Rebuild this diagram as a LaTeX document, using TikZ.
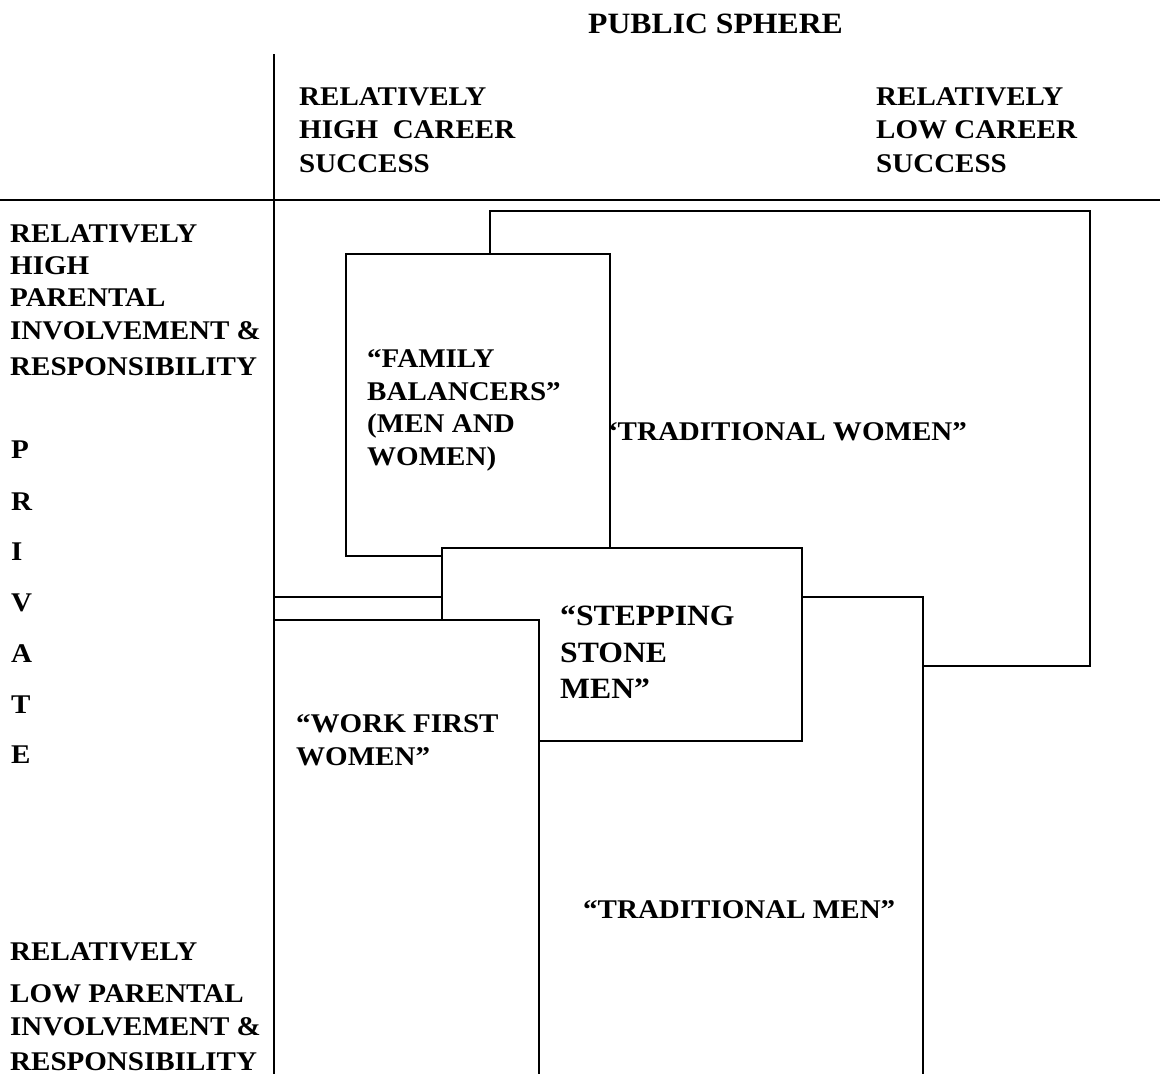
\documentclass[tikz,border=0pt]{standalone}
\usepackage{fontspec}
\setmainfont{Liberation Serif}[FakeStretch=1.075]
\begin{document}
\begin{tikzpicture}[x=1pt,y=-1pt,
  lbl/.style={anchor=base west, inner sep=0pt, font=\fontsize{27}{31}\bfseries\selectfont},
  big/.style={lbl, font=\fontsize{29.5}{34}\bfseries\selectfont},
  ln/.style={line width=1.8pt, line cap=rect},
  bx/.style={line width=1.8pt, fill=white}]
\useasboundingbox (0,0) rectangle (1160,1074);
\fill[white] (0,0) rectangle (1160,1074);
\clip (0,0) rectangle (1160,1074);

% axes
\coordinate (axtop) at (274,55);
\coordinate (axbot) at (274,1080);
\coordinate (hl) at (0,200);
\coordinate (hr) at (1160,200);
\draw[ln] (axtop) -- (axbot);
\draw[ln] (hl) -- (hr);

% headings
\node[big] (public) at (588,33) {PUBLIC SPHERE};
\node[lbl] (hc1) at (299,105) {RELATIVELY};
\node[lbl] (hc2) at (299,138) {HIGH\ \ CAREER};
\node[lbl] (hc3) at (299,172) {SUCCESS};
\node[lbl] (hr1) at (876,105) {RELATIVELY};
\node[lbl] (hr2) at (876,138) {LOW CAREER};
\node[lbl] (hr3) at (876,172) {SUCCESS};

% left column
\node[lbl] (lt1) at (10,242) {RELATIVELY};
\node[lbl] (lt2) at (10,274) {HIGH};
\node[lbl] (lt3) at (10,306) {PARENTAL};
\node[lbl] (lt4) at (10,339) {INVOLVEMENT \&};
\node[lbl] (lt5) at (10,375) {RESPONSIBILITY};
\node[lbl] (pv1) at (11,458) {P};
\node[lbl] (pv2) at (11,510) {R};
\node[lbl] (pv3) at (11,560) {I};
\node[lbl] (pv4) at (11,611) {V};
\node[lbl] (pv5) at (11,662) {A};
\node[lbl] (pv6) at (11,713) {T};
\node[lbl] (pv7) at (11,763) {E};
\node[lbl] (lb1) at (10,960) {RELATIVELY};
\node[lbl] (lb2) at (10,1002) {LOW PARENTAL};
\node[lbl] (lb3) at (10,1035) {INVOLVEMENT \&};
\node[lbl] (lb4) at (10,1070) {RESPONSIBILITY};

% traditional women
\draw[bx] (490,211) rectangle (1090,666);
\node[lbl] (tw) at (603,440) {“TRADITIONAL WOMEN”};

% traditional men
\draw[bx] (274,597) rectangle (923,1100);
\node[lbl] (tm) at (583,918) {“TRADITIONAL MEN”};

% family balancers
\draw[bx] (346,254) rectangle (610,556);
\node[lbl] (fb1) at (367,367) {“FAMILY};
\node[lbl] (fb2) at (367,400) {BALANCERS”};
\node[lbl] (fb3) at (367,432) {(MEN AND};
\node[lbl] (fb4) at (367,465) {WOMEN)};

% stepping stone men
\draw[bx] (442,548) rectangle (802,741);
\node[big] (ss1) at (560,625) {“STEPPING};
\node[big] (ss2) at (560,662) {STONE};
\node[big] (ss3) at (560,698) {MEN”};

% work first women
\draw[bx] (274,620) rectangle (539,1100);
\node[lbl] (wf1) at (296,732) {“WORK FIRST};
\node[lbl] (wf2) at (296,765) {WOMEN”};
\end{tikzpicture}
\end{document}
